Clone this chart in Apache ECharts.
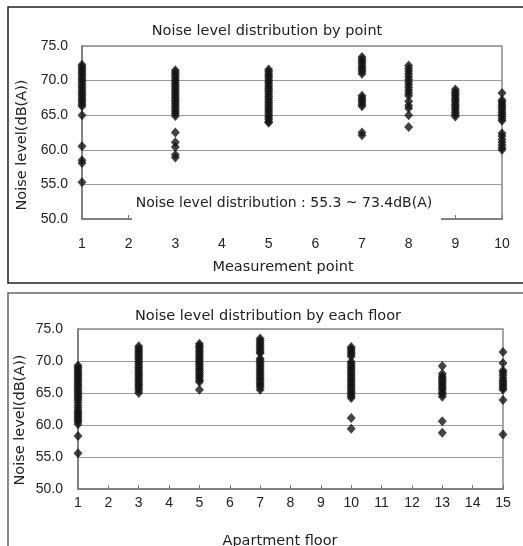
<!DOCTYPE html>
<html>
<head>
<meta charset="utf-8">
<script src="https://cdn.jsdelivr.net/npm/echarts@6/dist/echarts.min.js"></script>
<style>
html,body{margin:0;padding:0;background:#fff;}
#c{width:523px;height:546px;}
</style>
</head>
<body>
<div id="c"></div>
<script>
// ---- Data ----
const pointCategories = ['1','2','3','4','5','6','7','8','9','10'];
const floorCategories = ['1','2','3','4','5','6','7','8','9','10','11','12','13','14','15'];
const yTicks = [50, 55, 60, 65, 70, 75];

// Top chart: noise levels by measurement point
const point1 = [72.3,72.0,71.7,71.4,71.1,70.8,70.5,70.2,69.9,69.6,69.3,69.0,68.7,68.4,68.1,67.8,67.5,67.2,66.9,66.6,66.3,65.0,60.5,58.5,58.1,55.3];
const point3 = [71.5,71.2,70.9,70.6,70.3,70.0,69.7,69.4,69.1,68.8,68.5,68.2,67.9,67.6,67.3,67.0,66.7,66.4,66.1,65.8,65.5,65.2,64.9,62.5,61.1,60.4,59.3,58.9];
const point5 = [71.6,71.3,71.0,70.7,70.4,70.1,69.8,69.5,69.2,68.9,68.6,68.3,68.0,67.7,67.4,67.1,66.8,66.5,66.2,65.9,65.6,65.3,65.0,64.7,64.4,64.1,63.9];
const point7 = [73.4,73.1,72.8,72.5,72.2,71.9,71.6,71.3,71.0,67.8,67.5,67.2,66.9,66.6,66.3,62.5,62.1];
const point8 = [72.2,71.8,71.4,71.0,70.6,70.2,69.8,69.4,69.0,68.6,68.2,67.8,67.0,66.4,66.0,65.0,63.3];
const point9 = [68.7,68.4,68.1,67.8,67.5,67.2,66.9,66.6,66.3,66.0,65.7,65.4,65.1,64.8];
const point10 = [68.2,67.2,66.9,66.6,66.3,66.0,65.7,65.4,65.1,64.8,64.5,64.2,62.4,62.0,61.5,61.1,60.7,60.3,60.0];

// Bottom chart: noise levels by apartment floor
const floor1 = [69.3,69.0,68.7,68.4,68.1,67.8,67.5,67.2,66.9,66.6,66.3,66.0,65.7,65.4,65.1,64.8,64.5,64.2,63.9,63.5,63.1,62.7,62.3,62.0,61.7,61.4,61.1,60.8,60.5,60.1,58.3,55.6];
const floor3 = [72.3,72.0,71.7,71.4,71.1,70.8,70.5,70.2,69.9,69.6,69.3,69.0,68.7,68.4,68.1,67.8,67.5,67.2,66.9,66.6,66.3,66.0,65.7,65.4,65.0];
const floor5 = [72.7,72.4,72.1,71.8,71.5,71.2,70.9,70.6,70.3,70.0,69.7,69.4,69.1,68.8,68.5,68.2,67.9,67.6,67.3,67.0,66.7,65.5];
const floor7 = [73.5,73.2,72.9,72.6,72.3,72.0,71.7,71.4,71.2,70.4,70.1,69.8,69.5,69.2,68.9,68.6,68.3,68.0,67.7,67.4,67.1,66.8,66.5,66.2,65.9,65.5];
const floor10 = [72.2,71.9,71.6,71.3,71.0,70.7,69.9,69.6,69.3,69.0,68.7,68.4,68.1,67.8,67.5,67.2,66.9,66.6,66.3,66.0,65.7,65.4,65.1,64.8,64.5,64.2,61.1,59.4];
const floor13 = [69.2,68.0,67.6,67.3,67.0,66.7,66.4,66.1,65.8,65.5,65.1,64.8,64.4,60.6,58.8];
const floor15 = [71.4,69.7,68.5,68.2,67.8,67.4,67.0,66.7,66.4,66.1,65.8,65.5,63.9,58.5];

const topSets = [['1',point1],['3',point3],['5',point5],['7',point7],['8',point8],['9',point9],['10',point10]];
const bottomSets = [['1',floor1],['3',floor3],['5',floor5],['7',floor7],['10',floor10],['13',floor13],['15',floor15]];

const topTitle = 'Noise level distribution by point';
const bottomTitle = 'Noise level distribution by each floor';
const topXName = 'Measurement point';
const bottomXName = 'Apartment floor';
const yName = 'Noise level(dB(A))';
const noteText = 'Noise level distribution : 55.3 ~ 73.4dB(A)';

// ---- Chart ----
const FONT = 'Liberation Sans, Arial, sans-serif';
const WFONT = 'DejaVu Sans, sans-serif';
const TXT = '#222';
function flatten(sets){
  const out = [];
  sets.forEach(s => s[1].forEach(v => out.push([s[0], v])));
  return out;
}
function yAxis(gi, margin){
  return {
    type:'value', gridIndex:gi, min:yTicks[0], max:yTicks[yTicks.length-1], interval:5,
    axisLine:{show:true, lineStyle:{color:'#777', width:1.5}},
    axisTick:{show:false},
    axisLabel:{color:TXT, fontFamily:FONT, fontSize:14, margin:margin, formatter:v=>v.toFixed(1)},
    splitLine:{show:true, lineStyle:{color:'#9a9a9a', width:1.2}}
  };
}
function xAxis(gi, cats, margin){
  return {
    type:'category', gridIndex:gi, data:cats, boundaryGap:false,
    axisLine:{show:true, onZero:false, lineStyle:{color:'#777', width:1.5}},
    axisTick:{show:true, inside:true, length:4, lineStyle:{color:'#777'}},
    axisLabel:{color:TXT, fontFamily:FONT, fontSize:14, margin:margin, interval:0},
    splitLine:{show:false}
  };
}
function label(text, x, y, extra){
  return Object.assign({type:'text', z:51, silent:true, x:x, y:y,
    style:{text:text, x:0, y:0, textAlign:'center', textVerticalAlign:'middle', font:'14.5px '+WFONT, fill:TXT}}, extra||{});
}
const chart = echarts.init(document.getElementById('c'), null, {renderer:'canvas'});
const mk = {symbol:'diamond', symbolSize:[9,10], itemStyle:{color:'#151515'}};
chart.setOption({
  animation:false,
  backgroundColor:'#fff',
  grid:[
    {left:82, top:46, width:420, height:173, show:true, borderColor:'#8a8a8a', borderWidth:1.5, containLabel:false},
    {left:78, top:329, width:425, height:160, show:true, borderColor:'#8a8a8a', borderWidth:1.5, containLabel:false}
  ],
  xAxis:[xAxis(0, pointCategories, 18), xAxis(1, floorCategories, 7)],
  yAxis:[yAxis(0, 14), yAxis(1, 15)],
  series:[
    Object.assign({type:'scatter', xAxisIndex:0, yAxisIndex:0, data:flatten(topSets), z:3}, mk),
    Object.assign({type:'scatter', xAxisIndex:1, yAxisIndex:1, data:flatten(bottomSets), z:3}, mk)
  ],
  graphic:[
    {type:'rect', z:0, silent:true, shape:{x:8, y:7, width:530, height:276}, style:{fill:null, stroke:'#222', lineWidth:1.5}},
    {type:'rect', z:0, silent:true, shape:{x:8, y:293, width:530, height:280}, style:{fill:null, stroke:'#666', lineWidth:1.5}},
    {type:'rect', z:50, silent:true, shape:{x:132, y:190, width:309, height:33}, style:{fill:'#fff', stroke:null}},
    label(noteText, 284, 203, {style:{text:noteText, x:0, y:0, textAlign:'center', textVerticalAlign:'middle', font:'14px '+WFONT, fill:TXT}}),
    label(topTitle, 267, 31),
    label(bottomTitle, 268, 316),
    label(topXName, 283, 267),
    label(bottomXName, 280, 541),
    label(yName, 22, 145, {rotation:Math.PI/2}),
    label(yName, 20, 420, {rotation:Math.PI/2})
  ]
});
</script>
</body>
</html>
